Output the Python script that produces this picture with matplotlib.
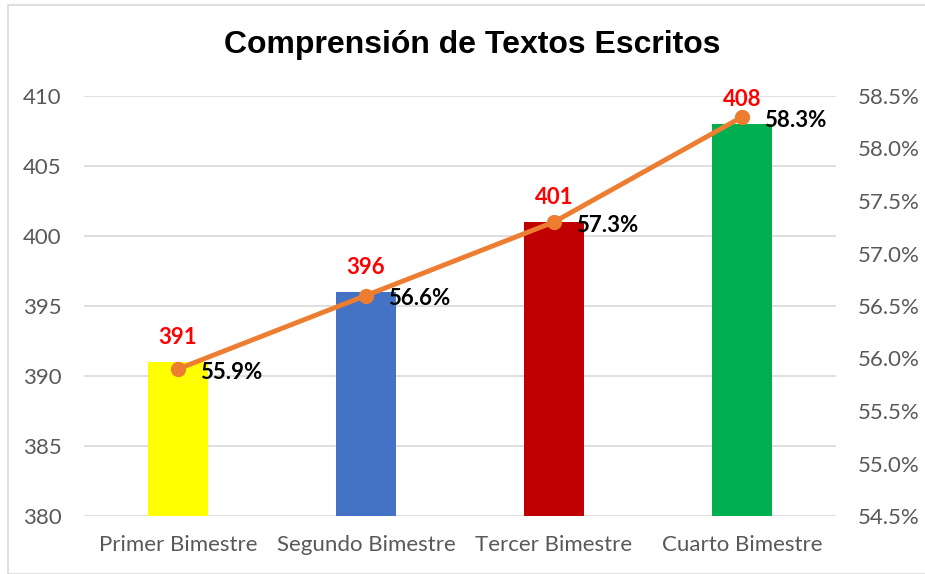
import matplotlib.pyplot as plt
from matplotlib.patches import Rectangle
from matplotlib.ticker import FuncFormatter

categories = ["Primer Bimestre", "Segundo Bimestre", "Tercer Bimestre", "Cuarto Bimestre"]
scores = [391, 396, 401, 408]
pct = [55.9, 56.6, 57.3, 58.3]
bar_colors = ["#FFFF00", "#4472C4", "#C00000", "#00B050"]

tick_font = "Lato"
grey = "#595959"

fig = plt.figure(figsize=(9.25, 5.74), dpi=100)
fig.patches.append(Rectangle((8 / 925, 0), 1, 1 - 5 / 574, transform=fig.transFigure,
                             fill=False, edgecolor="#D9D9D9", linewidth=1.2))
ax = fig.add_axes([84 / 925, 1 - 516 / 574, 752 / 925, 420 / 574])

x = range(len(categories))
ax.bar(x, [s - 380 for s in scores], bottom=380, width=0.32, color=bar_colors, zorder=2)
ax.set_ylim(380, 410)
ax.set_xlim(-0.5, 3.5)
ax.set_yticks(range(380, 411, 5))
ax.set_xticks(list(x))
ax.set_xticklabels(categories)
ax.yaxis.grid(True, color="#D9D9D9", linewidth=1.2, zorder=0)
ax.set_axisbelow(True)
for s in ax.spines.values():
    s.set_visible(False)
ax.tick_params(length=0, labelsize=16, labelcolor=grey)
ax.tick_params(axis="y", pad=16)
ax.tick_params(axis="x", pad=14)
for lab in ax.get_xticklabels() + ax.get_yticklabels():
    lab.set_fontfamily(tick_font)

for i, s in enumerate(scores):
    ax.text(i, s + 1.0, str(s), color="#FF0000", fontsize=16, fontweight="bold",
            ha="center", va="bottom", fontfamily=tick_font)

ax2 = ax.twinx()
ax2.set_ylim(54.5, 58.5)
ax2.set_yticks([54.5 + 0.5 * k for k in range(9)])
ax2.yaxis.set_major_formatter(FuncFormatter(lambda v, p: f"{v:.1f}%"))
for s in ax2.spines.values():
    s.set_visible(False)
ax2.tick_params(length=0, labelsize=16, labelcolor=grey, pad=16)
for lab in ax2.get_yticklabels():
    lab.set_fontfamily(tick_font)
ax2.plot(list(x), pct, color="#ED7D31", linewidth=3.5, marker="o", markersize=10, zorder=3)
for i, p in enumerate(pct):
    ax2.text(i + 0.12, p - 0.03, f"{p:.1f}%", color="black", fontsize=16, fontweight="bold",
             ha="left", va="center", fontfamily=tick_font)

fig.text(472 / 925, 1 - 45 / 574, "Comprensión de Textos Escritos", ha="center", va="center",
         fontsize=23, fontweight="bold", fontfamily="Liberation Sans")

fig.savefig("out.png", dpi=100)
